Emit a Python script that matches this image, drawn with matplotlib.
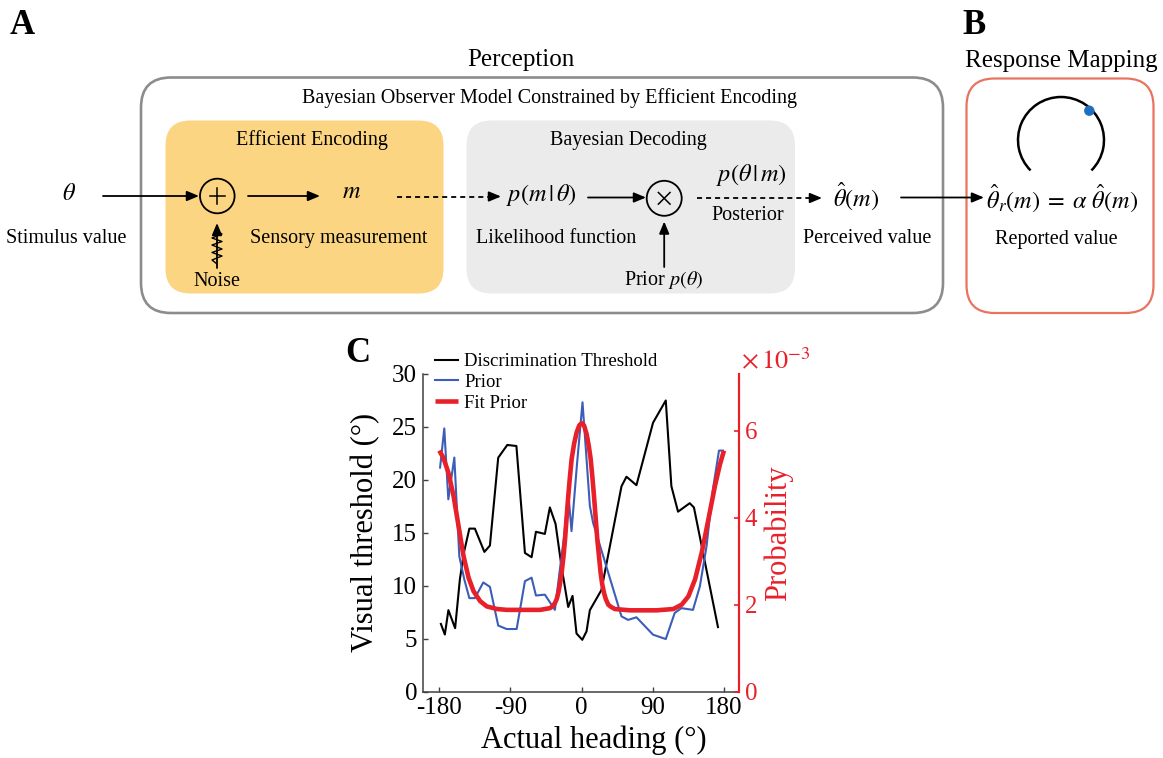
import numpy as np
import matplotlib
matplotlib.use("Agg")
import matplotlib.pyplot as plt
from matplotlib.patches import FancyBboxPatch, Circle, Arc
from matplotlib.lines import Line2D

plt.rcParams['font.family'] = ['Liberation Serif', 'DejaVu Serif']
plt.rcParams['mathtext.fontset'] = 'stix'

# ---------------- data (panel C) ----------------
# Discrimination threshold (deg), left axis
thr_x = [-178, -173, -168.5, -160, -154, -149, -142, -135, -123, -116, -105.5, -94, -82.5,
         -71.7, -63.3, -57.8, -46.5, -40.2, -33, -25.4, -17, -11.5, -6.5, 0.8, 6.2, 10.4,
         25, 50.4, 56.7, 69.3, 90.3, 106.4, 113.5, 121.9, 136.7, 142, 172.4]
thr_y = [6.4, 5.4, 7.7, 6.0, 10.6, 13.1, 15.4, 15.4, 13.2, 13.8, 22.1, 23.3, 23.2,
         13.1, 12.7, 15.1, 14.9, 17.4, 15.85, 11.8, 8.0, 9.05, 5.5, 4.9, 5.7, 7.7,
         9.6, 19.4, 20.3, 19.5, 25.4, 27.5, 19.4, 17.0, 17.8, 17.4, 6.1]

# Prior (x 1e-3), right axis
pri_x = [-179, -173.7, -168.6, -161, -154.7, -148.4, -142, -135, -124.4, -116, -105.5, -94.9,
         -82.2, -71.7, -63.3, -57.8, -46.5, -33.8, -27.5, -22, -17, -12.8, -6, 1.1, 10.4,
         14.5, 50.4, 58.8, 69.3, 90.3, 106.4, 117.7, 126.2, 140.8, 149.5, 158, 166,
         173.7, 178.7]
pri_y = [5.15, 6.05, 4.42, 5.38, 3.11, 2.58, 2.15, 2.15, 2.51, 2.41, 1.52, 1.44,
         1.44, 2.54, 2.62, 2.21, 2.23, 1.88, 2.81, 3.6, 4.6, 3.69, 5.2, 6.65, 4.27,
         3.88, 1.73, 1.65, 1.71, 1.31, 1.21, 1.81, 1.92, 1.88, 2.42, 3.35, 4.65,
         5.54, 5.54]

# Fit prior (x 1e-3), right axis
fit_x = [-180, -175, -168.6, -162, -155.7, -149.4, -143, -136.7, -128.3, -120, -107, -94.7,
         -73.6, -52.5, -40, -36.5, -33.7, -31.5, -29.5, -27.5, -25.3, -23, -21, -19, -16.9,
         -15, -12.6, -9.5, -6.3, -3, 0, 3, 6.3, 9, 11.4, 13.5, 15.6, 17.7, 19.8, 22, 24,
         26, 28.3, 30.5, 33.7, 37, 42, 61, 95, 116, 126.5, 135, 143.4, 151.8, 160.3,
         168.6, 175, 180]
fit_y = [5.54, 5.38, 5.04, 4.5, 3.81, 3.12, 2.62, 2.31, 2.08, 1.96, 1.9, 1.88,
         1.88, 1.88, 1.92, 1.97, 2.04, 2.13, 2.27, 2.47, 2.73, 3.1, 3.5, 4.0, 4.5,
         4.9, 5.35, 5.7, 5.96, 6.12, 6.17, 6.12, 5.92, 5.65, 5.35, 4.95, 4.5, 4.0, 3.5,
         3.1, 2.73, 2.47, 2.27, 2.13, 2.0, 1.95, 1.9, 1.87, 1.87, 1.9, 2.0, 2.19, 2.58,
         3.19, 3.96, 4.73, 5.23, 5.54]

xticks = [-180, -90, 0, 90, 180]
xticklabels = ['-180', '-90', '0', '90', '180']
yticks_left = [0, 5, 10, 15, 20, 25, 30]
yticks_right = [0, 2, 4, 6]

W, H = 1163, 758
fig = plt.figure(figsize=(W / 100, H / 100), dpi=100)

# ---------------- diagram (panels A, B) in pixel coordinates ----------------
d = fig.add_axes([0, 0, 1, 1])
d.set_xlim(0, W)
d.set_ylim(H, 0)
d.axis('off')

ORANGE = '#FCD583'
LGREY = '#EBEBEB'
EDGE = '#8C8C8C'
REDB = '#E8735E'
LW = 1.3

def rbox(x0, y0, x1, y1, r, fc='none', ec='none', lw=0):
    p = FancyBboxPatch((x0, y0), x1 - x0, y1 - y0,
                       boxstyle=f"round,pad=0,rounding_size={r}",
                       fc=fc, ec=ec, lw=lw)
    d.add_patch(p)

rbox(141, 77.5, 943, 313, 30, fc='white', ec=EDGE, lw=1.9)
rbox(165.5, 120.5, 443.5, 293.5, 25, fc=ORANGE)
rbox(466.5, 120.5, 795, 293.5, 25, fc=LGREY)
rbox(966.5, 78.5, 1153.5, 313, 28, fc='white', ec=REDB, lw=1.6)

def arrow(x0, y0, x1, y1):
    d.annotate('', xy=(x1, y1), xytext=(x0, y0),
               arrowprops=dict(arrowstyle='-|>,head_length=0.6,head_width=0.25',
                               lw=LW, color='k', mutation_scale=12,
                               shrinkA=0, shrinkB=0))

def dashed_arrow(x0, y0, x1, y1):
    d.plot([x0, x1 - 8], [y0, y1], color='k', lw=LW, linestyle=(0, (2.8, 2.2)))
    arrow(x1 - 9, y1, x1, y1)

ms = 17.5
# panel letters and headings
d.text(22.5, 26, 'A', fontsize=25, fontweight='bold', ha='center', va='center')
d.text(974.5, 26, 'B', fontsize=25, fontweight='bold', ha='center', va='center')
d.text(521, 60, 'Perception', fontsize=18, ha='center', va='center')
d.text(1061.5, 61, 'Response Mapping', fontsize=18, ha='center', va='center')
d.text(550, 98, 'Bayesian Observer Model Constrained by Efficient Encoding',
       fontsize=14.5, ha='center', va='center')
d.text(311.7, 140, 'Efficient Encoding', fontsize=14.5, ha='center', va='center')
d.text(628.3, 140, 'Bayesian Decoding', fontsize=14.5, ha='center', va='center')

# stimulus
d.text(69, 195, r'$\theta$', fontsize=ms, ha='center', va='center')
d.text(66.7, 238.5, 'Stimulus value', fontsize=14.5, ha='center', va='center')
arrow(103, 196, 199, 196)

# encoding sum node
d.add_patch(Circle((217.3, 196), 17.3, fc='none', ec='k', lw=LW))
d.plot([209.5, 225.1], [196, 196], color='k', lw=1.1)
d.plot([217.3, 217.3], [188.2, 203.8], color='k', lw=1.1)
arrow(248, 196, 320, 196)
d.text(352, 193, r'$m$', fontsize=ms, ha='center', va='center')
d.text(339, 238.5, 'Sensory measurement', fontsize=14.5, ha='center', va='center')

# noise arrow with squiggle
arrow(217, 268, 217, 223)
zz_dx = [0, 5, -5, 5, -5, 5, -5, 5, -5, 0]
zz_y = [231, 234, 238, 241.5, 245, 249, 252.5, 256, 260, 264]
d.plot([217 + v for v in zz_dx], zz_y, color='k', lw=1.0)
d.text(216.7, 281, 'Noise', fontsize=14.5, ha='center', va='center')

# decoding
dashed_arrow(397, 196.5, 501, 196.5)
d.text(541.7, 195, r'$p(m\,|\,\theta)$', fontsize=ms, ha='center', va='center')
d.text(555.8, 238.5, 'Likelihood function', fontsize=14.5, ha='center', va='center')
arrow(588, 197.5, 646, 197.5)
d.add_patch(Circle((664.2, 198.3), 17.5, fc='none', ec='k', lw=LW))
d.plot([658.4, 670.0], [192.5, 204.1], color='k', lw=1.1)
d.plot([658.4, 670.0], [204.1, 192.5], color='k', lw=1.1)
arrow(664.2, 267, 664.2, 221.5)
d.text(664, 280, r'Prior $p(\theta)$', fontsize=14.5, ha='center', va='center')
d.text(751.7, 175.5, r'$p(\theta\,|\,m)$', fontsize=ms, ha='center', va='center')
d.text(747.5, 215, 'Posterior', fontsize=14.5, ha='center', va='center')
dashed_arrow(697, 198, 822, 198)
d.text(856, 196, r'$\hat{\theta}(m)$', fontsize=ms, ha='center', va='center')
d.text(867.5, 238.5, 'Perceived value', fontsize=14.5, ha='center', va='center')

# response mapping
arrow(901, 197.5, 984, 197.5)
d.text(1062, 198, r'$\hat{\theta}_r(m)\;=\;\alpha\ \hat{\theta}(m)$', fontsize=ms,
       ha='center', va='center')
d.text(1056.7, 239.3, 'Reported value', fontsize=14.5, ha='center', va='center')
d.add_patch(Arc((1061, 140), 86, 86, theta1=135, theta2=405, color='k', lw=1.8))
d.add_patch(Circle((1089.3, 110.7), 5.2, fc='#1F6FC0', ec='none', zorder=5))

# ---------------- panel C ----------------
ax_l, ax_r, ax_b, ax_t = 422.7, 739, 691.7, 374
ax = fig.add_axes([ax_l / W, 1 - ax_b / H, (ax_r - ax_l) / W, (ax_b - ax_t) / H])
ax2 = ax.twinx()

RED = '#E8202A'
BLUE = '#3C5DB8'

l1, = ax.plot(thr_x, thr_y, color='black', lw=1.5)
l2, = ax2.plot(pri_x, pri_y, color=BLUE, lw=1.5)
l3, = ax2.plot(fit_x, fit_y, color=RED, lw=3.3, solid_joinstyle='round',
               solid_capstyle='butt')

ax.set_xlim(-201, 199)
ax.set_ylim(0, 30)
ax2.set_ylim(0, 7.3)
ax.set_xticks(xticks)
ax.set_xticklabels(xticklabels)
ax.set_yticks(yticks_left)
ax2.set_yticks(yticks_right)

for a in (ax, ax2):
    a.spines['top'].set_visible(False)
ax.spines['right'].set_visible(False)
ax2.spines['left'].set_visible(False)
ax2.spines['bottom'].set_visible(False)
ax.spines['left'].set_color('#404040')
ax.spines['bottom'].set_color('#404040')
ax.spines['left'].set_linewidth(1.1)
ax.spines['bottom'].set_linewidth(1.1)
ax2.spines['right'].set_color(RED)
ax2.spines['right'].set_linewidth(1.6)

ax.tick_params(axis='both', direction='in', length=3.5, width=1.0, color='#404040',
               labelsize=18, pad=4)
ax2.tick_params(axis='y', direction='in', length=3.5, width=1.2, color=RED,
                labelcolor=RED, labelsize=18, pad=4)

ax.set_xlabel('Actual heading (°)', fontsize=22, va='center')
ax.xaxis.set_label_coords(0.54, -0.152)
ax.set_ylabel('Visual threshold (°)', fontsize=22, va='center')
ax.yaxis.set_label_coords(-0.182, 0.5)
ax2.set_ylabel('Probability', fontsize=22, color=RED, va='center', rotation=90)
ax2.yaxis.set_label_coords(1.123, 0.5)

fig.text(741 / W, 1 - 361 / H, r'$\times\,10^{-3}$', color=RED, fontsize=19,
         ha='left', va='center')
fig.text(358 / W, 1 - 353 / H, 'C', fontsize=25, fontweight='bold',
         ha='center', va='center')

leg = ax2.legend([l1, l2, l3], ['Discrimination Threshold', 'Prior', 'Fit Prior'],
                 loc='upper left', bbox_to_anchor=(435 / W, 1 - 353 / H),
                 bbox_transform=fig.transFigure, frameon=False, fontsize=13.5,
                 borderpad=0, borderaxespad=0, handlelength=1.2, handletextpad=0.35,
                 labelspacing=0.2)

fig.savefig('out.png', dpi=100)
